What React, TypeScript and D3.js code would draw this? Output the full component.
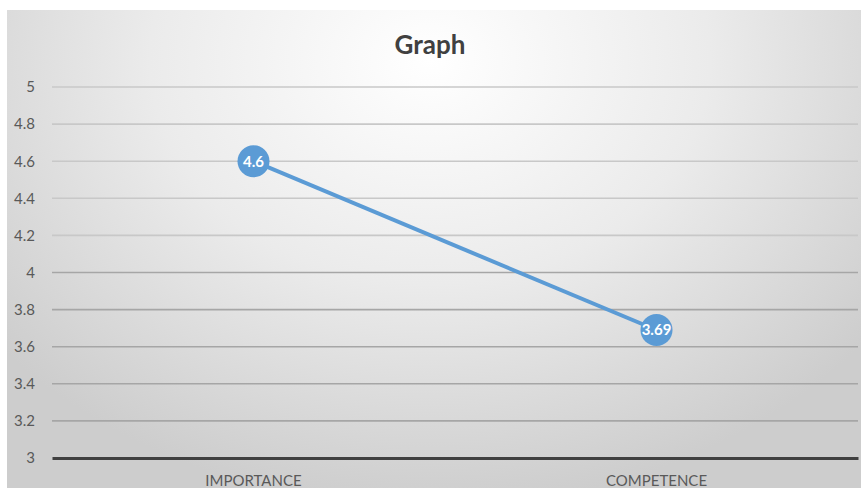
import { useCallback, useEffect, useRef } from "react";
import * as d3 from "d3";

const categories = ["IMPORTANCE", "COMPETENCE"];
const values = [4.6, 3.69];
const yTicks = [3, 3.2, 3.4, 3.6, 3.8, 4, 4.2, 4.4, 4.6, 4.8, 5];

const width = 861;
const height = 488;
const color = "#5B9BD5";
const font = "Lato, 'Open Sans', sans-serif";

const LineChart = () => {
  const svgRef = useRef<SVGSVGElement | null>(null);

  const renderGraph = useCallback((svgEl: SVGSVGElement) => {
    const svg = d3.select(svgEl);
    svg.selectAll("*").remove();

    const frame = { left: 7, top: 10 };
    const margin = { top: 87, right: 3, bottom: 30, left: 52 };

    const defs = svg.append("defs");
    const grad = defs
      .append("radialGradient")
      .attr("id", "bg")
      .attr("gradientUnits", "userSpaceOnUse")
      .attr("cx", 430)
      .attr("cy", 60)
      .attr("r", 560)
      .attr("gradientTransform", "translate(430,60) scale(1,0.8) translate(-430,-60)");
    grad.append("stop").attr("offset", "0").attr("stop-color", "#ffffff");
    grad.append("stop").attr("offset", "0.5").attr("stop-color", "#ebebeb");
    grad.append("stop").attr("offset", "1").attr("stop-color", "#cdcdcd");

    svg
      .append("rect")
      .attr("width", width)
      .attr("height", height)
      .attr("fill", "#ffffff");

    svg
      .append("rect")
      .attr("x", frame.left)
      .attr("y", frame.top)
      .attr("width", width - frame.left)
      .attr("height", height - frame.top)
      .attr("fill", "url(#bg)");

    const x = d3
      .scaleBand()
      .domain(categories)
      .range([margin.left, width - margin.right]);

    const y = d3
      .scaleLinear()
      .domain([3, 5])
      .range([height - margin.bottom, margin.top]);

    // gridlines
    svg
      .append("g")
      .selectAll("line")
      .data(yTicks.filter((d) => d !== 3))
      .join("line")
      .attr("x1", margin.left)
      .attr("x2", width - margin.right)
      .attr("y1", (d) => y(d))
      .attr("y2", (d) => y(d))
      .attr("stroke", (d) => (d > 4.1 ? "#c8c8c8" : "#a6a6a6"))
      .attr("stroke-width", 1.6);

    const yAxis = (g) =>
      g
        .attr("transform", `translate(${margin.left},0)`)
        .call(
          d3
            .axisLeft(y)
            .tickValues(yTicks)
            .tickSize(0)
            .tickPadding(17)
            .tickFormat((d) => `${d}`)
        )
        .call((g) => g.select(".domain").remove())
        .call((g) =>
          g
            .selectAll("text")
            .attr("fill", "#595959")
            .attr("font-size", 15)
            .attr("font-family", font)
        );

    svg.append("g").call(yAxis);

    const xAxis = (g) =>
      g
        .attr("transform", `translate(0,${height - margin.bottom})`)
        .call(d3.axisBottom(x).tickSize(0).tickPadding(17))
        .call((g) =>
          g
            .select(".domain")
            .attr("stroke", "#404040")
            .attr("stroke-width", 3)
        )
        .call((g) =>
          g
            .selectAll("text")
            .attr("fill", "#595959")
            .attr("font-size", 15)
            .attr("font-family", font)
        );

    svg.append("g").call(xAxis);

    const line = d3
      .line<number>()
      .x((d, i) => (x(categories[i]) ?? 0) + x.bandwidth() / 2)
      .y((d) => y(d));

    svg
      .append("path")
      .datum(values)
      .attr("d", line)
      .attr("fill", "none")
      .attr("stroke", color)
      .attr("stroke-width", 4);

    const points = svg
      .append("g")
      .selectAll("g")
      .data(values)
      .join("g")
      .attr(
        "transform",
        (d, i) =>
          `translate(${(x(categories[i]) ?? 0) + x.bandwidth() / 2},${y(d)})`
      );

    points.append("circle").attr("r", 16).attr("fill", color);

    points
      .append("text")
      .attr("text-anchor", "middle")
      .attr("dy", "0.36em")
      .attr("fill", "#ffffff")
      .attr("font-size", 15)
      .attr("font-weight", "bold")
      .attr("font-family", font)
      .text((d) => `${d}`);

    svg
      .append("text")
      .attr("x", 430)
      .attr("y", 54)
      .attr("text-anchor", "middle")
      .attr("fill", "#404040")
      .attr("font-size", 26)
      .attr("font-weight", "bold")
      .attr("font-family", font)
      .text("Graph");
  }, []);

  useEffect(() => {
    if (svgRef.current) renderGraph(svgRef.current);
  }, [renderGraph]);

  return (
    <svg
      ref={svgRef}
      width={width}
      height={height}
      style={{ position: "absolute", top: 0, left: 0, display: "block" }}
    />
  );
};

export default function App() {
  return <LineChart />;
}
